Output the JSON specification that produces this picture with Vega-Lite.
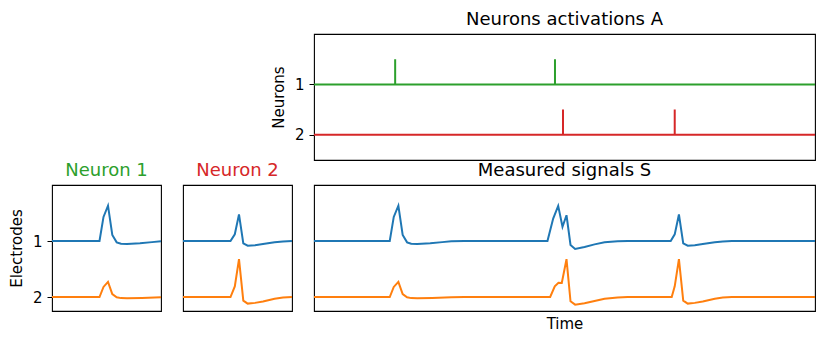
{
  "$schema": "https://vega.github.io/schema/vega-lite/v6.json",
  "background": "white",
  "padding": {"left": 8, "top": 10, "right": 5, "bottom": 5},
  "datasets": {
    "templates": [
      {"neuron": 1, "electrode": 1, "t": 0, "v": 1.0},
      {"neuron": 1, "electrode": 1, "t": 47.5, "v": 1.0},
      {"neuron": 1, "electrode": 1, "t": 51.5, "v": 0.57},
      {"neuron": 1, "electrode": 1, "t": 56, "v": 0.37},
      {"neuron": 1, "electrode": 1, "t": 60.3, "v": 0.893},
      {"neuron": 1, "electrode": 1, "t": 64.7, "v": 1.024},
      {"neuron": 1, "electrode": 1, "t": 69, "v": 1.05},
      {"neuron": 1, "electrode": 1, "t": 75, "v": 1.055},
      {"neuron": 1, "electrode": 1, "t": 88, "v": 1.042},
      {"neuron": 1, "electrode": 1, "t": 100, "v": 1.02},
      {"neuron": 1, "electrode": 1, "t": 109, "v": 1.006},
      {"neuron": 1, "electrode": 2, "t": 0, "v": 2.0},
      {"neuron": 1, "electrode": 2, "t": 47.5, "v": 2.0},
      {"neuron": 1, "electrode": 2, "t": 51.5, "v": 1.82},
      {"neuron": 1, "electrode": 2, "t": 56, "v": 1.73},
      {"neuron": 1, "electrode": 2, "t": 60.3, "v": 1.947},
      {"neuron": 1, "electrode": 2, "t": 64.7, "v": 2.006},
      {"neuron": 1, "electrode": 2, "t": 69, "v": 2.02},
      {"neuron": 1, "electrode": 2, "t": 75, "v": 2.024},
      {"neuron": 1, "electrode": 2, "t": 90, "v": 2.018},
      {"neuron": 1, "electrode": 2, "t": 109, "v": 2.003},
      {"neuron": 2, "electrode": 1, "t": 0, "v": 1.0},
      {"neuron": 2, "electrode": 1, "t": 47.5, "v": 1.0},
      {"neuron": 2, "electrode": 1, "t": 51.8, "v": 0.88},
      {"neuron": 2, "electrode": 1, "t": 56, "v": 0.525},
      {"neuron": 2, "electrode": 1, "t": 60.3, "v": 1.041},
      {"neuron": 2, "electrode": 1, "t": 64.7, "v": 1.083},
      {"neuron": 2, "electrode": 1, "t": 72, "v": 1.075},
      {"neuron": 2, "electrode": 1, "t": 80, "v": 1.055},
      {"neuron": 2, "electrode": 1, "t": 91.6, "v": 1.024},
      {"neuron": 2, "electrode": 1, "t": 100, "v": 1.008},
      {"neuron": 2, "electrode": 1, "t": 109, "v": 1.0},
      {"neuron": 2, "electrode": 2, "t": 0, "v": 2.0},
      {"neuron": 2, "electrode": 2, "t": 47.5, "v": 2.0},
      {"neuron": 2, "electrode": 2, "t": 51.8, "v": 1.81},
      {"neuron": 2, "electrode": 2, "t": 56, "v": 1.325},
      {"neuron": 2, "electrode": 2, "t": 60.3, "v": 2.065},
      {"neuron": 2, "electrode": 2, "t": 64.7, "v": 2.118},
      {"neuron": 2, "electrode": 2, "t": 72, "v": 2.105},
      {"neuron": 2, "electrode": 2, "t": 80, "v": 2.08},
      {"neuron": 2, "electrode": 2, "t": 91.6, "v": 2.03},
      {"neuron": 2, "electrode": 2, "t": 100, "v": 2.01},
      {"neuron": 2, "electrode": 2, "t": 109, "v": 2.0}
    ],
    "signals": [
      {"electrode": 1, "t": 0, "v": 1.0},
      {"electrode": 1, "t": 75.6, "v": 1.0},
      {"electrode": 1, "t": 79.6, "v": 0.57},
      {"electrode": 1, "t": 84.2, "v": 0.37},
      {"electrode": 1, "t": 88.5, "v": 0.893},
      {"electrode": 1, "t": 92.9, "v": 1.024},
      {"electrode": 1, "t": 97, "v": 1.05},
      {"electrode": 1, "t": 103, "v": 1.055},
      {"electrode": 1, "t": 116, "v": 1.042},
      {"electrode": 1, "t": 128, "v": 1.02},
      {"electrode": 1, "t": 137, "v": 1.006},
      {"electrode": 1, "t": 150, "v": 1.0},
      {"electrode": 1, "t": 233, "v": 1.0},
      {"electrode": 1, "t": 238.7, "v": 0.6},
      {"electrode": 1, "t": 243.7, "v": 0.373},
      {"electrode": 1, "t": 248, "v": 0.746},
      {"electrode": 1, "t": 252, "v": 0.54},
      {"electrode": 1, "t": 256, "v": 1.071},
      {"electrode": 1, "t": 260.6, "v": 1.142},
      {"electrode": 1, "t": 270, "v": 1.107},
      {"electrode": 1, "t": 280, "v": 1.06},
      {"electrode": 1, "t": 290, "v": 1.024},
      {"electrode": 1, "t": 303, "v": 1.006},
      {"electrode": 1, "t": 313, "v": 1.0},
      {"electrode": 1, "t": 356, "v": 1.0},
      {"electrode": 1, "t": 360, "v": 0.882},
      {"electrode": 1, "t": 364.2, "v": 0.527},
      {"electrode": 1, "t": 368.5, "v": 1.041},
      {"electrode": 1, "t": 373, "v": 1.083},
      {"electrode": 1, "t": 380, "v": 1.075},
      {"electrode": 1, "t": 388, "v": 1.055},
      {"electrode": 1, "t": 400, "v": 1.024},
      {"electrode": 1, "t": 408, "v": 1.008},
      {"electrode": 1, "t": 417, "v": 1.0},
      {"electrode": 1, "t": 500, "v": 1.0},
      {"electrode": 2, "t": 0, "v": 2.0},
      {"electrode": 2, "t": 75.6, "v": 2.0},
      {"electrode": 2, "t": 79.6, "v": 1.82},
      {"electrode": 2, "t": 84.2, "v": 1.73},
      {"electrode": 2, "t": 88.5, "v": 1.947},
      {"electrode": 2, "t": 92.9, "v": 2.006},
      {"electrode": 2, "t": 97, "v": 2.02},
      {"electrode": 2, "t": 103, "v": 2.024},
      {"electrode": 2, "t": 118, "v": 2.018},
      {"electrode": 2, "t": 137, "v": 2.003},
      {"electrode": 2, "t": 150, "v": 2.0},
      {"electrode": 2, "t": 235.7, "v": 2.0},
      {"electrode": 2, "t": 240.3, "v": 1.81},
      {"electrode": 2, "t": 244, "v": 1.746},
      {"electrode": 2, "t": 247.3, "v": 1.75},
      {"electrode": 2, "t": 252, "v": 1.325},
      {"electrode": 2, "t": 256, "v": 2.077},
      {"electrode": 2, "t": 260.6, "v": 2.136},
      {"electrode": 2, "t": 270, "v": 2.11},
      {"electrode": 2, "t": 280, "v": 2.07},
      {"electrode": 2, "t": 290, "v": 2.03},
      {"electrode": 2, "t": 303, "v": 2.008},
      {"electrode": 2, "t": 313, "v": 2.0},
      {"electrode": 2, "t": 357, "v": 2.0},
      {"electrode": 2, "t": 360, "v": 1.81},
      {"electrode": 2, "t": 364.2, "v": 1.325},
      {"electrode": 2, "t": 368.5, "v": 2.065},
      {"electrode": 2, "t": 373, "v": 2.118},
      {"electrode": 2, "t": 380, "v": 2.105},
      {"electrode": 2, "t": 388, "v": 2.08},
      {"electrode": 2, "t": 400, "v": 2.03},
      {"electrode": 2, "t": 408, "v": 2.01},
      {"electrode": 2, "t": 417, "v": 2.0},
      {"electrode": 2, "t": 500, "v": 2.0}
    ],
    "activations": [
      {"neuron": 1, "k": 0, "t": 0, "v": 1},
      {"neuron": 1, "k": 1, "t": 81, "v": 1},
      {"neuron": 1, "k": 2, "t": 81, "v": 0.5},
      {"neuron": 1, "k": 3, "t": 81, "v": 1},
      {"neuron": 1, "k": 4, "t": 240.5, "v": 1},
      {"neuron": 1, "k": 5, "t": 240.5, "v": 0.5},
      {"neuron": 1, "k": 6, "t": 240.5, "v": 1},
      {"neuron": 1, "k": 7, "t": 500, "v": 1},
      {"neuron": 2, "k": 0, "t": 0, "v": 2},
      {"neuron": 2, "k": 1, "t": 248.5, "v": 2},
      {"neuron": 2, "k": 2, "t": 248.5, "v": 1.5},
      {"neuron": 2, "k": 3, "t": 248.5, "v": 2},
      {"neuron": 2, "k": 4, "t": 360, "v": 2},
      {"neuron": 2, "k": 5, "t": 360, "v": 1.5},
      {"neuron": 2, "k": 6, "t": 360, "v": 2},
      {"neuron": 2, "k": 7, "t": 500, "v": 2}
    ],
    "blank": [{"blank": true}]
  },
  "columns": 3,
  "bounds": "flush",
  "spacing": {"row": 25, "column": 22},
  "resolve": {"scale": {"x": "independent", "y": "independent", "color": "independent"}},
  "concat": [
    {
      "width": 109, "height": 126,
      "view": {"stroke": null},
      "data": {"name": "blank"},
      "mark": {"type": "point", "opacity": 0},
      "encoding": {}
    },
    {
      "width": 109, "height": 126,
      "view": {"stroke": null},
      "data": {"name": "blank"},
      "mark": {"type": "point", "opacity": 0},
      "encoding": {}
    },
    {
      "width": 501, "height": 126,
      "title": {"text": "Neurons activations A"},
      "data": {"name": "activations"},
      "mark": {"type": "line", "strokeWidth": 2},
      "encoding": {
        "x": {"field": "t", "type": "quantitative", "scale": {"domain": [0, 500], "nice": false, "zero": false}, "axis": null},
        "y": {"field": "v", "type": "quantitative", "scale": {"domain": [0, 2.5], "reverse": true, "nice": false, "zero": false}, "axis": {"values": [1, 2], "format": "d", "title": "Neurons"}},
        "color": {"field": "neuron", "type": "nominal", "scale": {"domain": [1, 2], "range": ["#2ca02c", "#d62728"]}, "legend": null},
        "order": {"field": "k", "type": "quantitative"}
      }
    },
    {
      "width": 109, "height": 126,
      "title": {"text": "Neuron 1", "color": "#2ca02c"},
      "data": {"name": "templates"},
      "transform": [{"filter": "datum.neuron == 1"}],
      "mark": {"type": "line", "strokeWidth": 2},
      "encoding": {
        "x": {"field": "t", "type": "quantitative", "scale": {"domain": [0, 109], "nice": false, "zero": false}, "axis": null},
        "y": {"field": "v", "type": "quantitative", "scale": {"domain": [0, 2.25], "reverse": true, "nice": false, "zero": false}, "axis": {"values": [1, 2], "format": "d", "title": "Electrodes"}},
        "color": {"field": "electrode", "type": "nominal", "scale": {"domain": [1, 2], "range": ["#1f77b4", "#ff7f0e"]}, "legend": null}
      }
    },
    {
      "width": 109, "height": 126,
      "title": {"text": "Neuron 2", "color": "#d62728"},
      "data": {"name": "templates"},
      "transform": [{"filter": "datum.neuron == 2"}],
      "mark": {"type": "line", "strokeWidth": 2},
      "encoding": {
        "x": {"field": "t", "type": "quantitative", "scale": {"domain": [0, 109], "nice": false, "zero": false}, "axis": null},
        "y": {"field": "v", "type": "quantitative", "scale": {"domain": [0, 2.25], "reverse": true, "nice": false, "zero": false}, "axis": null},
        "color": {"field": "electrode", "type": "nominal", "scale": {"domain": [1, 2], "range": ["#1f77b4", "#ff7f0e"]}, "legend": null}
      }
    },
    {
      "width": 501, "height": 126,
      "title": {"text": "Measured signals S"},
      "data": {"name": "signals"},
      "mark": {"type": "line", "strokeWidth": 2},
      "encoding": {
        "x": {"field": "t", "type": "quantitative", "scale": {"domain": [0, 500], "nice": false, "zero": false}, "axis": {"title": "Time", "labels": false, "ticks": false, "domain": false, "titlePadding": 5}},
        "y": {"field": "v", "type": "quantitative", "scale": {"domain": [0, 2.25], "reverse": true, "nice": false, "zero": false}, "axis": null},
        "color": {"field": "electrode", "type": "nominal", "scale": {"domain": [1, 2], "range": ["#1f77b4", "#ff7f0e"]}, "legend": null}
      }
    }
  ],
  "config": {
    "font": "DejaVu Sans",
    "view": {"stroke": "#000", "strokeWidth": 1.1},
    "axis": {
      "grid": false,
      "domain": false,
      "labelFont": "DejaVu Sans",
      "titleFont": "DejaVu Sans",
      "labelFontSize": 15,
      "titleFontSize": 15,
      "titleFontWeight": "normal",
      "labelColor": "#000",
      "titleColor": "#000",
      "tickColor": "#000",
      "tickSize": 5,
      "tickWidth": 1,
      "labelPadding": 5,
      "titlePadding": 8
    },
    "title": {"font": "DejaVu Sans", "fontSize": 18, "fontWeight": "normal", "color": "#000", "offset": 5, "baseline": "alphabetic"}
  }
}
